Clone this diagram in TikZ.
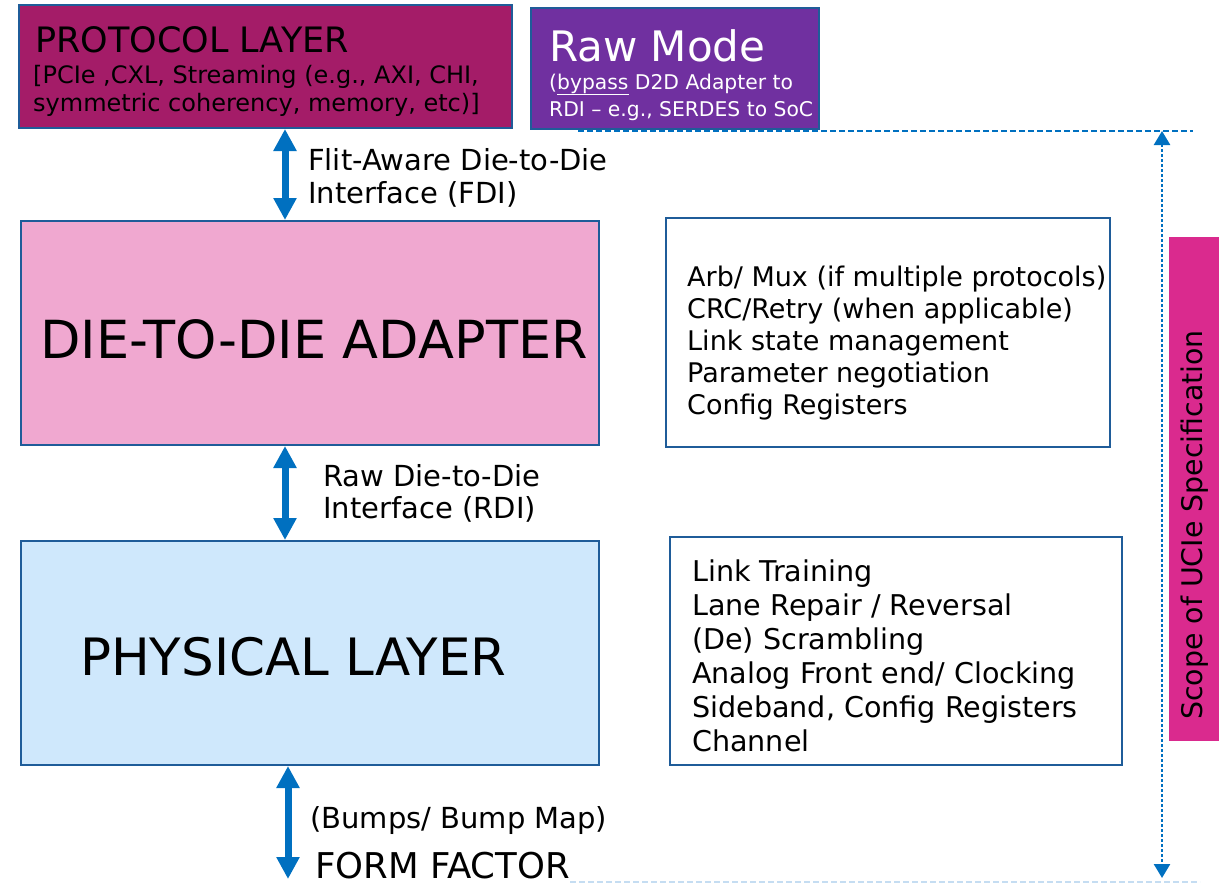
\documentclass[tikz,border=0pt]{standalone}
\usepackage{fontspec}
\setmainfont{DejaVu Sans}
\usetikzlibrary{arrows.meta}

\definecolor{protofill}{HTML}{A41C68}
\definecolor{rawfill}{HTML}{7030A0}
\definecolor{adapterfill}{HTML}{F0A8D0}
\definecolor{phyfill}{HTML}{CFE8FC}
\definecolor{scopefill}{HTML}{DA2A8E}
\definecolor{edge}{HTML}{1F5C99}
\definecolor{linkblue}{HTML}{0070C0}
\definecolor{paleblue}{HTML}{C5DDF2}

\newcommand\setfs[1]{\fontsize{#1}{#1}\selectfont}

\tikzset{
  layerbox/.style={draw=edge, line width=2pt, rectangle, inner sep=0pt, anchor=north west},
  listbox/.style={layerbox, fill=white},
  txt/.style={inner sep=0pt, anchor=base west, text=black},
  wtxt/.style={txt, text=white},
  biglink/.style={draw=linkblue, line width=7pt,
    {Triangle[width=22pt,length=22pt]}-{Triangle[width=22pt,length=22pt]}},
  scopelink/.style={draw=linkblue, line width=2.6pt, dash pattern=on 3pt off 2pt,
    {Triangle[width=16pt,length=14pt]}-{Triangle[width=16pt,length=14pt]}},
  rule/.style={draw=linkblue, line width=1.3pt, dash pattern=on 6pt off 3pt},
}

\begin{document}
\begin{tikzpicture}[x=1pt,y=-1pt]
\useasboundingbox (0,0) rectangle (1219,883);

% layer boxes
\node[layerbox, fill=protofill, minimum width=493pt, minimum height=123pt] (proto) at (18,4) {};
\node[layerbox, fill=rawfill, minimum width=288pt, minimum height=121pt] (raw) at (530,7) {};
\node[layerbox, fill=adapterfill, minimum width=578pt, minimum height=224pt] (adapter) at (20,220) {};
\node[layerbox, fill=phyfill, minimum width=578pt, minimum height=224pt] (phy) at (20,540) {};
\node[listbox, minimum width=444pt, minimum height=229pt] (adplist) at (665,217) {};
\node[listbox, minimum width=452pt, minimum height=228pt] (phylist) at (669,536) {};

% protocol layer text
\node[txt, font=\setfs{35}] (protoTitle) at (35,53) {PROTOCOL LAYER};
\node[txt, font=\setfs{24}] (protoA) at (33,84) {[PCIe ,CXL, Streaming (e.g., AXI, CHI,};
\node[txt, font=\setfs{24}] (protoB) at (33,111) {symmetric coherency, memory, etc)]};

% raw mode text
\node[wtxt, font=\setfs{42}] (rawTitle) at (549,62) {Raw Mode};
\node[wtxt, font=\setfs{20.3}] (rawA) at (549,89) {(\underline{bypass} D2D Adapter to};
\node[wtxt, font=\setfs{20.3}] (rawB) at (549,117) {RDI – e.g., SERDES to SoC};

% big layer titles
\node[txt, font=\setfs{52.5}] (adapterTitle) at (40,358) {DIE-TO-DIE ADAPTER};
\node[txt, font=\setfs{51.5}] (phyTitle) at (80,675) {PHYSICAL LAYER};

% adapter function list
\foreach \t [count=\i] in {{Arb/ Mux (if multiple protocols)},{CRC/Retry (when applicable)},
  {Link state management},{Parameter negotiation},{Config Registers}}
  \node[txt, font=\setfs{27}] (adpItem\i) at (687,{286+32*(\i-1)}) {\t};

% physical layer function list
\foreach \t [count=\i] in {{Link Training},{Lane Repair / Reversal},{(De) Scrambling},
  {Analog Front end/ Clocking},{Sideband, Config Registers},{Channel}}
  \node[txt, font=\setfs{28.6}] (phyItem\i) at (692,{581+34*(\i-1)}) {\t};

% interfaces between layers
\coordinate (axis) at (285,0);
\coordinate (axisB) at (288,0);
\coordinate (ffEnd) at (288,879);
\draw[biglink] (proto.south -| axis) -- (adapter.north -| axis);
\draw[biglink] (adapter.south -| axis) -- (phy.north -| axis);
\draw[biglink] (phy.south -| axisB) -- (ffEnd);

\node[txt, font=\setfs{29}] (fdiA) at (308,170) {Flit-Aware Die-to-Die};
\node[txt, font=\setfs{29}] (fdiB) at (308,203) {Interface (FDI)};
\node[txt, font=\setfs{29}] (rdiA) at (323,486) {Raw Die-to-Die};
\node[txt, font=\setfs{29}] (rdiB) at (323,518) {Interface (RDI)};
\node[txt, font=\setfs{29}] (bumps) at (310,828) {(Bumps/ Bump Map)};
\node[txt, font=\setfs{35.5}] (formfactor) at (315,878) {FORM FACTOR};

% scope of the specification
\coordinate (scopeTopL) at (578,131);
\coordinate (scopeTopR) at (1193,131);
\coordinate (scopeBotL) at (570,882);
\coordinate (scopeBotR) at (1200,882);
\draw[rule] (scopeTopL) -- (scopeTopR);
\draw[rule, draw=paleblue] (scopeBotL) -- (scopeBotR);
\coordinate (scopeUp) at (1162,131);
\coordinate (scopeDown) at (1162,878);
\draw[scopelink] (scopeUp) -- (scopeDown);

\node[fill=scopefill, inner sep=0pt, minimum width=50pt, minimum height=504pt, anchor=north west] (scope) at (1169,237) {};
\node[font=\setfs{28.4}, rotate=90, inner sep=0pt, text=black] (scopeLabel) at (1195,525) {Scope of UCIe Specification};
\end{tikzpicture}
\end{document}
